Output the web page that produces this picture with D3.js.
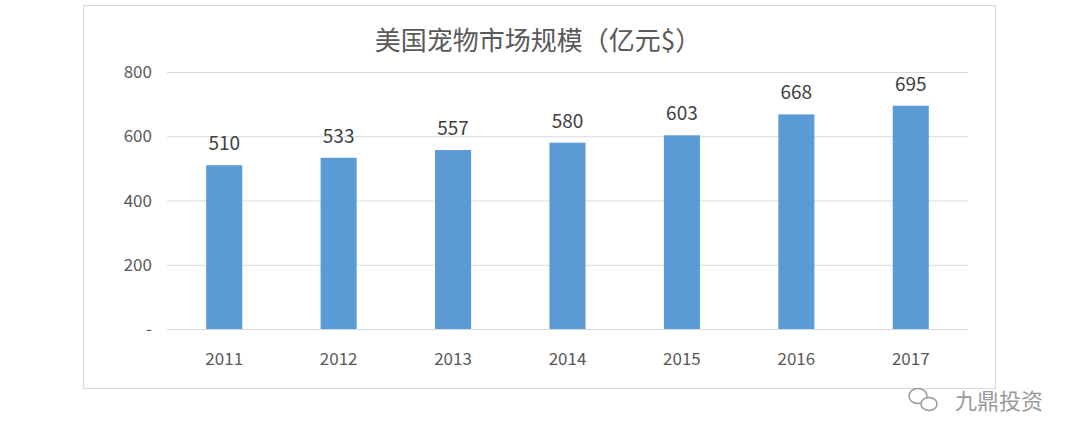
<!DOCTYPE html>
<html><head><meta charset="utf-8">
<script src="https://cdn.jsdelivr.net/npm/d3@7"></script>
<style>body{margin:0;background:#fff}</style></head>
<body><svg id="c" width="1080" height="446"></svg>
<script>
const categories=["2011","2012","2013","2014","2015","2016","2017"];
const values=[510,533,557,580,603,668,695];
const yTicks=[0,200,400,600,800];
const tickLabels=["-","200","400","600","800"];
const title="美国宠物市场规模（亿元$）";

const svg=d3.select("#c");
const font="'Noto Sans CJK SC','Open Sans',sans-serif";
svg.append("rect").attr("x",83.5).attr("y",5.5).attr("width",912).attr("height",383)
  .attr("fill","#fff").attr("stroke","#d9d9d9");
const x=d3.scaleBand().domain(categories).range([167,968]).paddingInner(0.685).paddingOuter(0.3425);
const y=d3.scaleLinear().domain([0,800]).range([329,72]);
svg.append("g").selectAll("line").data(yTicks).join("line")
  .attr("x1",167).attr("x2",968).attr("y1",d=>y(d)+0.5).attr("y2",d=>y(d)+0.5)
  .attr("stroke","#d9d9d9");
svg.append("g").selectAll("text").data(yTicks).join("text")
  .attr("x",152).attr("y",d=>y(d)+6).attr("text-anchor","end")
  .attr("font-family",font).attr("font-size",17).attr("fill","#595959")
  .text((d,i)=>tickLabels[i]);
svg.append("g").selectAll("rect").data(values).join("rect")
  .attr("x",(d,i)=>x(categories[i])).attr("width",x.bandwidth())
  .attr("y",d=>y(d)).attr("height",d=>y(0)-y(d)).attr("fill","#5b9bd5");
svg.append("g").selectAll("text").data(values).join("text")
  .attr("x",(d,i)=>x(categories[i])+x.bandwidth()/2).attr("y",d=>y(d)-15)
  .attr("text-anchor","middle").attr("font-family",font).attr("font-size",19).attr("fill","#404040")
  .text(d=>d);
svg.append("g").selectAll("text").data(categories).join("text")
  .attr("x",d=>x(d)+x.bandwidth()/2).attr("y",365)
  .attr("text-anchor","middle").attr("font-family",font).attr("font-size",17).attr("fill","#595959")
  .text(d=>d);
svg.append("text").attr("x",538).attr("y",50).attr("text-anchor","middle")
  .attr("font-family",font).attr("font-size",26).attr("fill","#595959").text(title);
svg.append("text").attr("x",1043).attr("y",409).attr("text-anchor","end")
  .attr("font-family",font).attr("font-size",22).attr("fill","#9a9a9a").text("九鼎投资");
const g=svg.append("g").attr("fill","none").attr("stroke","#9a9a9a").attr("stroke-width",1.5);
g.append("ellipse").attr("cx",918).attr("cy",396).attr("rx",9).attr("ry",7.5);
g.append("ellipse").attr("cx",929).attr("cy",404).attr("rx",8).attr("ry",6.5).attr("fill","#fff");
</script></body></html>
